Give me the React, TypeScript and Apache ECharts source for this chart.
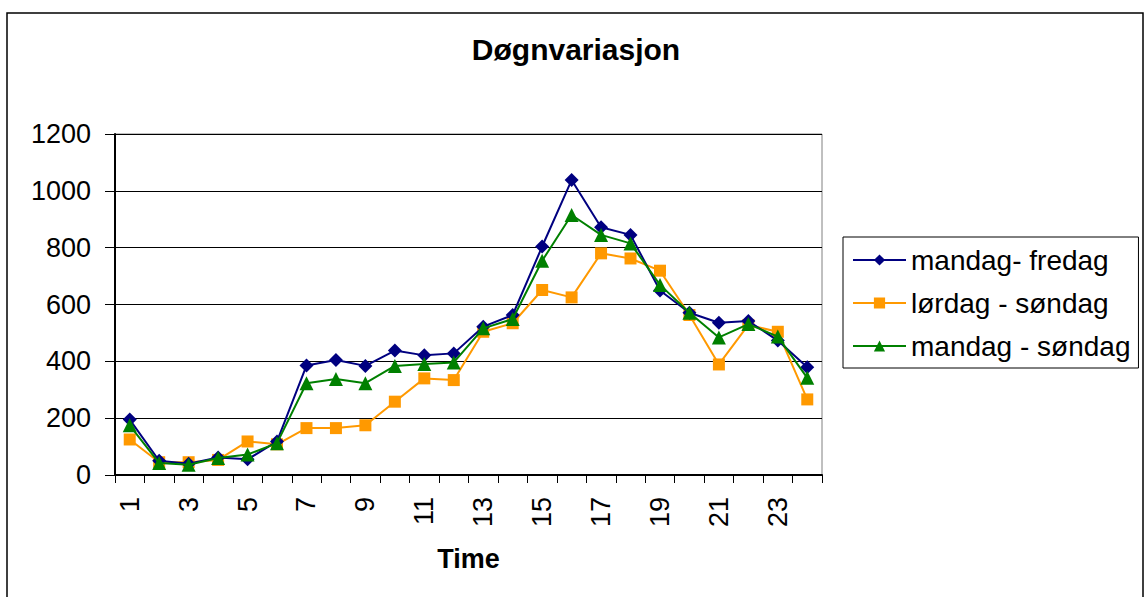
import React, { useEffect, useRef } from "react";
import * as echarts from "echarts";

const hours = ["1","2","3","4","5","6","7","8","9","10","11","12","13","14","15","16","17","18","19","20","21","22","23","24"];
const mandagFredag = [195, 50, 40, 62, 55, 118, 385, 405, 384, 438, 421, 428, 522, 563, 804, 1038, 872, 845, 649, 571, 536, 542, 473, 379];
const lordagSondag = [125, 45, 45, 53, 118, 108, 165, 165, 175, 258, 340, 334, 504, 534, 651, 625, 780, 762, 719, 563, 389, 528, 504, 266];
const mandagSondag = [175, 42, 36, 60, 72, 112, 323, 338, 323, 384, 391, 396, 516, 549, 754, 915, 845, 815, 669, 571, 484, 531, 487, 342];
const seriesNames = ["mandag- fredag", "lørdag - søndag", "mandag - søndag"];

const FONT = "'Liberation Sans', Arial, sans-serif";

export default function App() {
  const ref = useRef<HTMLDivElement>(null);
  useEffect(() => {
    if (!ref.current) return;
    const chart = echarts.init(ref.current, undefined, { renderer: "svg" });
    chart.setOption({
      animation: false,
      backgroundColor: "#ffffff",
      textStyle: { fontFamily: FONT, color: "#000" },
      title: {
        text: "Døgnvariasjon",
        left: 576,
        textAlign: "center",
        top: 34,
        padding: 0,
        textStyle: { fontFamily: FONT, fontSize: 30, fontWeight: "bold", color: "#000" },
      },
      graphic: [
        {
          type: "rect",
          shape: { x: 7, y: 13, width: 1136, height: 620 },
          style: { fill: "none", stroke: "#000", lineWidth: 1.5 },
          silent: true,
          z: -1,
        },
        {
          type: "rect",
          shape: { x: 115, y: 134, width: 707, height: 341 },
          style: { fill: "none", stroke: "#808080", lineWidth: 1 },
          silent: true,
          z: 0,
        },
      ],
      legend: {
        orient: "vertical",
        left: 843,
        top: 237,
        padding: [9, 8, 8, 9],
        itemGap: 15,
        itemWidth: 53,
        itemHeight: 14,
        borderColor: "#000",
        borderWidth: 1,
        textStyle: { fontFamily: FONT, fontSize: 28, color: "#000" },
        data: seriesNames,
      },
      grid: { left: 115, right: 323, top: 134, bottom: 122, containLabel: false },
      xAxis: {
        type: "category",
        data: hours,
        boundaryGap: true,
        name: "Time",
        nameLocation: "middle",
        nameGap: 70,
        nameTextStyle: { fontFamily: FONT, fontSize: 27, fontWeight: "bold", color: "#000" },
        axisLine: { lineStyle: { color: "#000", width: 2 } },
        axisTick: { show: true, interval: 0, length: 8, lineStyle: { color: "#000", width: 1 } },
        axisLabel: {
          interval: 1,
          rotate: 90,
          margin: 22,
          fontSize: 27,
          fontFamily: FONT,
          color: "#000",
        },
        splitLine: { show: false },
      },
      yAxis: {
        type: "value",
        min: 0,
        max: 1200,
        interval: 200,
        axisLine: { show: true, lineStyle: { color: "#000", width: 2 } },
        axisTick: { show: true, length: 10, lineStyle: { color: "#000", width: 1 } },
        axisLabel: {
          margin: 24,
          fontSize: 27,
          fontFamily: FONT,
          color: "#000",
          formatter: (v: number) => String(v),
        },
        splitLine: { show: true, lineStyle: { color: "#000", width: 1 } },
      },
      series: [
        {
          name: seriesNames[0],
          type: "line",
          data: mandagFredag,
          symbol: "diamond",
          symbolSize: 14,
          color: "#000080",
          lineStyle: { color: "#000080", width: 2 },
          itemStyle: { color: "#000080" },
          z: 3,
        },
        {
          name: seriesNames[1],
          type: "line",
          data: lordagSondag,
          symbol: "rect",
          symbolSize: 12,
          color: "#FF9900",
          lineStyle: { color: "#FF9900", width: 2 },
          itemStyle: { color: "#FF9900" },
          z: 2,
        },
        {
          name: seriesNames[2],
          type: "line",
          data: mandagSondag,
          symbol: "triangle",
          symbolSize: 14,
          color: "#008000",
          lineStyle: { color: "#008000", width: 2 },
          itemStyle: { color: "#008000" },
          z: 4,
        },
      ],
    });
    return () => chart.dispose();
  }, []);
  return (
    <div
      ref={ref}
      style={{ position: "absolute", left: 0, top: 0, width: 1145, height: 597 }}
    />
  );
}
